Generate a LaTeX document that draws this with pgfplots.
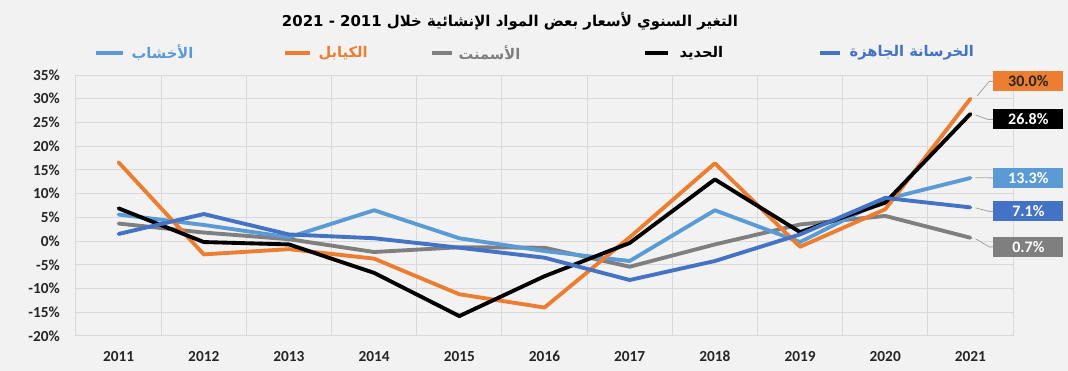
\documentclass[border=0pt]{standalone}
\usepackage{pgfplots}
\pgfplotsset{compat=1.18}
\usepackage{pgfplotstable}
\usepackage{fontspec}
\setmainfont{Carlito}
\newfontfamily\arabicfont[Script=Arabic]{DejaVu Sans}
\TeXXeTstate=1
\definecolor{bg}{HTML}{F2F2F2}
\definecolor{gridc}{HTML}{D9D9D9}
\definecolor{cLB}{HTML}{5B9BD5}
\definecolor{cOR}{HTML}{ED7D31}
\definecolor{cGR}{HTML}{7F7F7F}
\definecolor{cDB}{HTML}{4472C4}
\definecolor{cBK}{HTML}{000000}
\definecolor{leader}{HTML}{A6A6A6}

\pgfplotstableread{
x lb or gr bk db
0 5.6 16.6 3.7 6.9 1.5
1 3.4 -2.8 1.8 -0.2 5.7
2 0.8 -1.7 0.4 -0.7 1.4
3 6.5 -3.7 -2.3 -6.7 0.6
4 0.6 -11.2 -1.3 -15.8 -1.4
5 -2.1 -14.0 -1.4 -7.4 -3.5
6 -4.2 0.8 -5.4 -0.4 -8.2
7 6.5 16.4 -0.7 13.0 -4.2
8 -0.2 -1.2 3.5 1.9 1.4
9 8.8 6.7 5.3 8.1 9.1
10 13.3 30.0 0.7 26.8 7.1
}\datatable

\begin{document}
\begin{tikzpicture}[x=0.75pt,y=0.75pt]
\fill[bg] (0,0) rectangle (1068,371);
\useasboundingbox (0,0) rectangle (1068,371);
\node[font=\arabicfont\bfseries\fontsize{11.2}{13}\selectfont, text=black] at (510,350) {\beginR التغير السنوي لأسعار بعض المواد الإنشائية خلال \beginL 2011\endL{} - \beginL 2021\endL\endR};

% legend
\begin{scope}[line width=2.4pt]
\draw[cLB] (96,318) -- (123,318);
\node[anchor=west, inner sep=0pt, text=cLB, font=\arabicfont\bfseries\fontsize{11}{13}\selectfont] at (130,318) {\beginR الأخشاب\endR};
\draw[cOR] (285,318) -- (310,318);
\node[anchor=west, inner sep=0pt, text=cOR, font=\arabicfont\bfseries\fontsize{11}{13}\selectfont] at (317,318) {\beginR الكيابل\endR};
\draw[cGR] (432,318) -- (452,318);
\node[anchor=west, inner sep=0pt, text=cGR, font=\arabicfont\bfseries\fontsize{11}{13}\selectfont] at (457,318) {\beginR الأسمنت\endR};
\draw[cBK] (645,318) -- (668,318);
\node[anchor=west, inner sep=0pt, text=cBK, font=\arabicfont\bfseries\fontsize{11}{13}\selectfont] at (678,318) {\beginR الحديد\endR};
\draw[cDB] (820,318) -- (840,318);
\node[anchor=west, inner sep=0pt, text=cDB, font=\arabicfont\bfseries\fontsize{11}{13}\selectfont] at (848,318) {\beginR الخرسانة الجاهزة\endR};
\end{scope}

\begin{axis}[at={(57pt,26.25pt)}, anchor=south west, scale only axis,
  width=702.75pt, height=195.75pt,
  xmin=-0.5, xmax=10.5, ymin=-20, ymax=35,
  xtick={0,1,2,3,4,5,6,7,8,9,10},
  xticklabels={2011,2012,2013,2014,2015,2016,2017,2018,2019,2020,2021},
  minor xtick={-0.5,0.5,1.5,2.5,3.5,4.5,5.5,6.5,7.5,8.5,9.5,10.5},
  xminorgrids=true, xmajorgrids=false, ymajorgrids=true,
  ytick={-20,-15,-10,-5,0,5,10,15,20,25,30,35},
  major tick length=0pt, minor tick length=0pt,
  grid style={gridc, line width=0.75pt},
  minor grid style={gridc, line width=0.75pt},
  axis line style={gridc, line width=0.75pt},
  tick label style={font=\fontsize{11.5}{13}\selectfont\bfseries, text=black!85},
  /pgf/number format/assume math mode=true,
  yticklabel={\pgfmathprintnumber{\tick}\%},
  yticklabel style={anchor=east, inner sep=0pt, xshift=-12pt},
  xticklabel style={anchor=center, inner sep=0pt, yshift=-15.5pt},
  clip=false,
  every axis plot/.append style={line width=2.9pt, line join=round, line cap=round, mark=none},
]
\addplot[cGR] table[x=x,y=gr]{\datatable};
\addplot[cLB] table[x=x,y=lb]{\datatable};
\addplot[cOR] table[x=x,y=or]{\datatable};
\addplot[cBK] table[x=x,y=bk]{\datatable};
\addplot[cDB] table[x=x,y=db]{\datatable};

\begin{scope}[every node/.style={minimum width=52.5pt, minimum height=15pt, inner sep=0pt, font=\fontsize{12}{14}\selectfont\bfseries}]
\node[fill=cOR, text=black!85] (l1) at (axis cs:10.68,33.66) {30.0\%};
\node[fill=cBK, text=white] (l2) at (axis cs:10.68,25.65) {26.8\%};
\node[fill=cLB, text=white] (l3) at (axis cs:10.68,13.32) {13.3\%};
\node[fill=cDB, text=white] (l4) at (axis cs:10.68,6.26) {7.1\%};
\node[fill=cGR, text=white] (l5) at (axis cs:10.68,-1.22) {0.7\%};
\end{scope}
\begin{scope}[leader, line width=0.6pt]
\draw (axis cs:10.08,30.6) -- (axis cs:10.22,33.66) -- (l1.west);
\draw (axis cs:10.06,26.6) -- (axis cs:10.2,25.65) -- (l2.west);
\draw (axis cs:10.06,13.35) -- (l3.west);
\draw (axis cs:10.06,7.0) -- (axis cs:10.22,6.26) -- (l4.west);
\draw (axis cs:10.06,0.5) -- (axis cs:10.22,-1.22) -- (l5.west);
\end{scope}
\end{axis}
\end{tikzpicture}
\end{document}
